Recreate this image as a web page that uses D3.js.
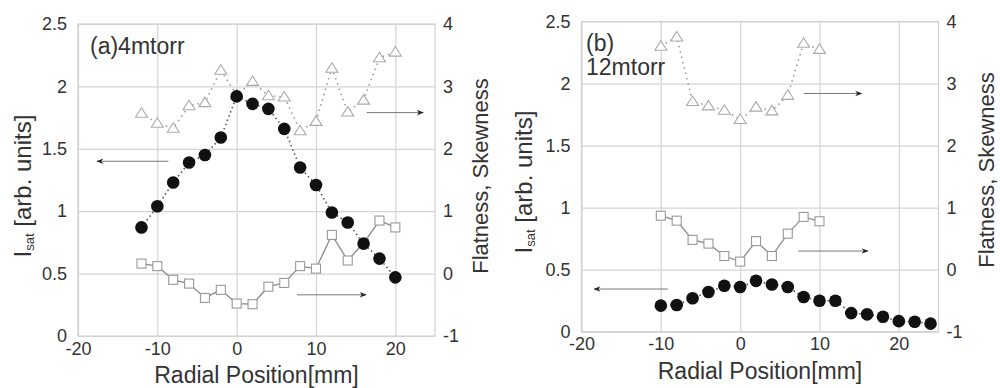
<!DOCTYPE html>
<html>
<head>
<meta charset="utf-8">
<script src="https://cdn.jsdelivr.net/npm/d3@7/dist/d3.min.js"></script>
<style>
  html, body { margin: 0; padding: 0; background: #fff; }
  svg { display: block; }
  text { font-family: "Liberation Sans", Arial, Helvetica, sans-serif; fill: #333; }
</style>
</head>
<body>
<svg id="chart" width="1000" height="388"></svg>
<script>
// ---------- data ----------
const xTicks = [-20, -10, 0, 10, 20];
const leftTicks = [0, 0.5, 1, 1.5, 2, 2.5];
const leftTickLabels = ["0", "0.5", "1", "1.5", "2", "2.5"];
const rightTicks = [-1, 0, 1, 2, 3, 4];
const rightTickLabels = ["-1", "0", "1", "2", "3", "4"];

// panel (a) 4 mtorr
const posA = [-12, -10, -8, -6, -4, -2, 0, 2, 4, 6, 8, 10, 12, 14, 16, 18, 20];
const isatA = [0.87, 1.04, 1.23, 1.39, 1.45, 1.59, 1.92, 1.86, 1.82, 1.66, 1.35, 1.21, 0.99, 0.91, 0.74, 0.62, 0.47];
const flatA = [2.57, 2.41, 2.33, 2.69, 2.74, 3.26, 2.86, 3.08, 2.85, 2.83, 2.29, 2.44, 3.29, 2.59, 2.78, 3.46, 3.55];
const skewA = [0.16, 0.12, -0.10, -0.16, -0.39, -0.26, -0.48, -0.49, -0.21, -0.15, 0.12, 0.08, 0.62, 0.21, 0.49, 0.85, 0.74];

// panel (b) 12 mtorr
const posB = [-10, -8, -6, -4, -2, 0, 2, 4, 6, 8, 10, 12, 14, 16, 18, 20, 22, 24];
const isatB = [0.21, 0.215, 0.27, 0.32, 0.37, 0.36, 0.41, 0.38, 0.36, 0.28, 0.25, 0.25, 0.15, 0.14, 0.12, 0.085, 0.08, 0.065];
const posB2 = [-10, -8, -6, -4, -2, 0, 2, 4, 6, 8, 10];
const flatB = [3.60, 3.75, 2.71, 2.64, 2.57, 2.42, 2.62, 2.56, 2.81, 3.65, 3.55];
const skewB = [0.87, 0.79, 0.48, 0.42, 0.22, 0.13, 0.46, 0.22, 0.58, 0.85, 0.78];

// arrows: [x1, x2, value, axis]
const arrowsA = [[-8.6, -17.6, 1.40, "L"], [16.4, 23.5, 2.58, "R"], [7.6, 16.3, -0.34, "R"]];
const arrowsB = [[8.0, 15.3, 2.84, "R"], [7.3, 16.1, 0.30, "R"], [-9.1, -18.4, 0.344, "L"]];

// ---------- drawing ----------
const svg = d3.select("#chart");
const defs = svg.append("defs");
defs.append("marker").attr("id", "head").attr("viewBox", "0 0 10 10")
  .attr("refX", 9).attr("refY", 5).attr("markerWidth", 9).attr("markerHeight", 7)
  .attr("markerUnits", "userSpaceOnUse").attr("orient", "auto")
  .append("path").attr("d", "M0,1 L10,5 L0,9 L3,5 Z").attr("fill", "#222");

function panel(cfg) {
  const x = d3.scaleLinear().domain([-20, 25]).range([cfg.left, cfg.right]);
  const yL = d3.scaleLinear().domain([0, 2.5]).range([cfg.bottom, cfg.top]);
  const yR = d3.scaleLinear().domain([-1, 4]).range([cfg.bottom, cfg.top]);
  const g = svg.append("g");
  const w = cfg.right - cfg.left, h = cfg.bottom - cfg.top;

  // grid
  g.append("g").attr("transform", `translate(0,${cfg.bottom})`)
    .call(d3.axisBottom(x).tickValues(xTicks).tickSize(-h).tickFormat(""))
    .call(s => s.select(".domain").remove())
    .call(s => s.selectAll("line").attr("stroke", "#d4d4d4").attr("stroke-width", 1.2));
  g.append("g").attr("transform", `translate(${cfg.left},0)`)
    .call(d3.axisLeft(yL).tickValues(leftTicks).tickSize(-w).tickFormat(""))
    .call(s => s.select(".domain").remove())
    .call(s => s.selectAll("line").attr("stroke", "#d4d4d4").attr("stroke-width", 1.2));
  g.append("rect").attr("x", cfg.left).attr("y", cfg.top).attr("width", w).attr("height", h)
    .attr("fill", "none").attr("stroke", "#d0d0d0").attr("stroke-width", 1.2);

  // tick labels
  const ax = g.append("g").attr("transform", `translate(0,${cfg.bottom})`)
    .call(d3.axisBottom(x).tickValues(xTicks).tickSize(0).tickPadding(6).tickFormat(d => String(d)));
  ax.select(".domain").remove();
  ax.selectAll("text").attr("font-size", 18).attr("fill", "#333").attr("dy", "0.71em");

  const al = g.append("g").attr("transform", `translate(${cfg.left},0)`)
    .call(d3.axisLeft(yL).tickValues(leftTicks).tickSize(0).tickPadding(11)
      .tickFormat((d, i) => leftTickLabels[i]));
  al.select(".domain").remove();
  al.selectAll("text").attr("font-size", 18).attr("fill", "#333");

  const ar = g.append("g").attr("transform", `translate(${cfg.right},0)`)
    .call(d3.axisRight(yR).tickValues(rightTicks).tickSize(0).tickPadding(8)
      .tickFormat((d, i) => rightTickLabels[i]));
  ar.select(".domain").remove();
  ar.selectAll("text").attr("font-size", 18).attr("fill", "#333");

  // axis titles
  g.append("text").attr("x", (cfg.left + cfg.right) / 2).attr("y", cfg.bottom + 47)
    .attr("text-anchor", "middle").attr("font-size", 23).text("Radial Position[mm]");
  const lt = g.append("text")
    .attr("transform", `translate(${cfg.leftTitleX},${cfg.leftTitleY}) rotate(-90)`)
    .attr("text-anchor", "middle").attr("font-size", 24);
  lt.append("tspan").text("I");
  lt.append("tspan").attr("font-size", 13).attr("dy", 3).text("sat");
  lt.append("tspan").attr("dy", -3).text(" [arb. units]");
  g.append("text")
    .attr("transform", `translate(${cfg.rightTitleX},${cfg.rightTitleY}) rotate(-90)`)
    .attr("text-anchor", "middle").attr("font-size", 22).text("Flatness, Skewness");

  // panel label
  const pl = g.append("text").attr("x", cfg.labelX).attr("y", cfg.labelY).attr("font-size", 23);
  cfg.label.forEach((t, i) => pl.append("tspan").attr("x", cfg.labelX).attr("dy", i ? 24 : 0).text(t));

  // series
  const skew = cfg.pos2.map((p, i) => [p, cfg.skew[i]]);
  const flat = cfg.pos2.map((p, i) => [p, cfg.flat[i]]);
  const isat = cfg.pos.map((p, i) => [p, cfg.isat[i]]);

  const lineR = d3.line().x(d => x(d[0])).y(d => yR(d[1]));
  const lineL = d3.line().x(d => x(d[0])).y(d => yL(d[1]));

  g.append("path").attr("d", lineR(skew)).attr("fill", "none").attr("stroke", "#8a8a8a").attr("stroke-width", 1.3);
  g.append("path").attr("d", lineR(flat)).attr("fill", "none").attr("stroke", "#9a9a9a")
    .attr("stroke-width", 1.6).attr("stroke-dasharray", "1.5,4");
  g.append("path").attr("d", lineL(isat)).attr("fill", "none").attr("stroke", "#555")
    .attr("stroke-width", 1.6).attr("stroke-dasharray", "1.5,3");

  g.selectAll(".sq").data(skew).join("rect").attr("class", "sq")
    .attr("x", d => x(d[0]) - 4.5).attr("y", d => yR(d[1]) - 4.5).attr("width", 9).attr("height", 9)
    .attr("fill", "#fff").attr("stroke", "#999").attr("stroke-width", 1.1);
  g.selectAll(".tri").data(flat).join("path").attr("class", "tri")
    .attr("d", d => `M${x(d[0])},${yR(d[1]) - 5.5} L${x(d[0]) + 6},${yR(d[1]) + 4} L${x(d[0]) - 6},${yR(d[1]) + 4} Z`)
    .attr("fill", "#fff").attr("stroke", "#aaa").attr("stroke-width", 1.1);
  g.selectAll(".dot").data(isat).join("circle").attr("class", "dot")
    .attr("cx", d => x(d[0])).attr("cy", d => yL(d[1])).attr("r", 6.3).attr("fill", "#111");

  // arrows
  cfg.arrows.forEach(a => {
    const yy = a[3] === "L" ? yL(a[2]) : yR(a[2]);
    g.append("line").attr("x1", x(a[0])).attr("x2", x(a[1])).attr("y1", yy).attr("y2", yy)
      .attr("stroke", "#777").attr("stroke-width", 1).attr("marker-end", "url(#head)");
  });
}

panel({ left: 78, right: 435, top: 24, bottom: 336, pos: posA, isat: isatA, pos2: posA, flat: flatA, skew: skewA,
  arrows: arrowsA, label: ["(a)4mtorr"], labelX: 90, labelY: 54,
  leftTitleX: 31, leftTitleY: 186, rightTitleX: 488, rightTitleY: 176 });
panel({ left: 581.5, right: 938.5, top: 21.5, bottom: 331.7, pos: posB, isat: isatB, pos2: posB2, flat: flatB, skew: skewB,
  arrows: arrowsB, label: ["(b)", "12mtorr"], labelX: 586, labelY: 51,
  leftTitleX: 532, leftTitleY: 182, rightTitleX: 994, rightTitleY: 170 });
</script>
</body>
</html>
